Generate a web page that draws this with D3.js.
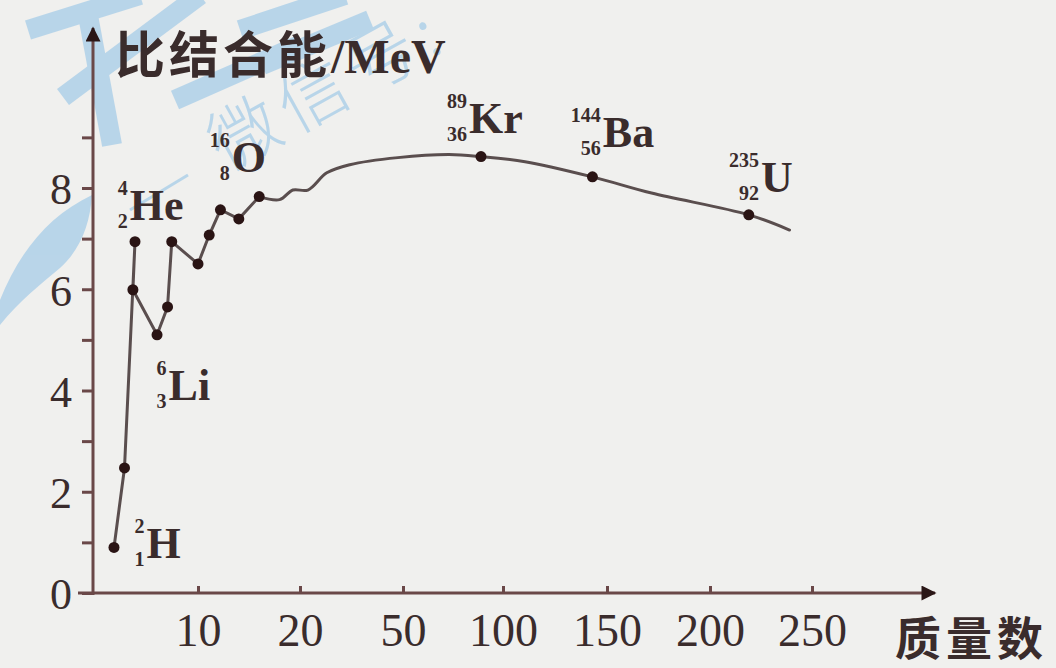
<!DOCTYPE html>
<html>
<head>
<meta charset="utf-8">
<script src="https://cdn.jsdelivr.net/npm/d3@7"></script>
<style>
  html, body { margin: 0; padding: 0; background: #f0f0ee; }
  svg { display: block; }
</style>
</head>
<body>
<svg></svg>
<script>

// mass number A and binding energy per nucleon (MeV)
const massNumbers = [2, 3, 4, 3.8, 6.1, 7.1, 7.5, 10, 11.1, 12.2, 14, 16,
                     18, 19.3, 22.3, 27.8, 34.5, 48.5, 73, 89, 110.6, 143, 171.6, 219, 239];
const energies    = [0.9, 2.47, 6.94, 5.99, 5.1, 5.65, 6.94, 6.5, 7.07, 7.57, 7.39, 7.83,
                     7.77, 7.96, 7.96, 8.3, 8.46, 8.6, 8.66, 8.62, 8.52, 8.22, 7.9, 7.47, 7.17];
const hasDot      = [1, 1, 1, 1, 1, 1, 1, 1, 1, 1, 1, 1,
                     0, 0, 0, 0, 0, 0, 0, 1, 0, 1, 0, 1, 0];

// nuclide labels: symbol, mass number, atomic number, anchor in data units
const labelSymbols = ['H', 'He', 'Li', 'O', 'Kr', 'Ba', 'U'];
const labelMass    = ['2', '4', '6', '16', '89', '144', '235'];
const labelZ       = ['1', '2', '3', '8', '36', '56', '92'];
const labelA       = [5.1, 3.5, 7.2, 13.3, 83, 148, 225];
const labelE       = [0.69, 7.37, 3.81, 8.32, 9.09, 8.81, 7.92];

const xTicks = [10, 20, 50, 100, 150, 200, 250];
const yTicks = [0, 1, 2, 3, 4, 5, 6, 7, 8, 9];

const yTitle = '比结合能';
const yUnit = '/MeV';
const xTitle = '质量数';
const stamp = '微信号:';

const W = 1056, H = 668;
const ink = '#3a2c2c', axisColor = '#6a4848';

const svg = d3.select('svg').attr('width', W).attr('height', H);

svg.append('rect').attr('width', W).attr('height', H).attr('fill', '#f0f0ee');

// the axis is stretched unevenly: 0-20 wide, then 20,50,100.. equally spaced
const x = d3.scaleLinear()
  .domain([0, 10, 20, 50, 100, 150, 200, 250])
  .range([93, 198, 300, 403, 503, 607, 710, 812]);

const y = d3.scaleLinear()
  .domain([0, 8])
  .range([593, 188]);

//---------------- watermark (scan stamp) -----------------------
const wm = svg.append('g').attr('opacity', 0.55);
const bands = [
  [[28, 30], [140, -5]],
  [[63, 97], [200, -5]],
  [[87, 10], [112, 145]],
  [[175, 100], [300, 45]],
  [[240, 30], [345, -5]],
  [[262, 65], [370, 20]]
];
wm.selectAll('line.band')
  .data(bands)
  .join('line')
  .attr('class', 'band')
  .attr('x1', d => d[0][0]).attr('y1', d => d[0][1])
  .attr('x2', d => d[1][0]).attr('y2', d => d[1][1])
  .attr('stroke', '#8cc0e6').attr('stroke-width', 20);
wm.append('line')
  .attr('x1', 130).attr('y1', 210).attr('x2', 188).attr('y2', 175)
  .attr('stroke', '#8cc0e6').attr('stroke-width', 3);
wm.append('path')
  .attr('d', 'M0,300 C20,250 50,215 92,195 C90,225 80,250 60,268 C40,285 20,300 0,325 Z')
  .attr('fill', '#8cc0e6');
wm.append('text')
  .attr('transform', 'translate(226,172) rotate(-29)')
  .attr('fill', '#8cc0e6')
  .style('font-family', '"Noto Sans CJK SC"')
  .style('font-weight', 300)
  .style('font-size', '70px')
  .attr('letter-spacing', 8)
  .text(stamp);

//---------------- axes -----------------------
const defs = svg.append('defs');
defs.append('marker')
  .attr('id', 'arrow')
  .attr('viewBox', '0 0 10 10')
  .attr('refX', 9).attr('refY', 5)
  .attr('markerWidth', 7).attr('markerHeight', 5)
  .attr('markerUnits', 'strokeWidth')
  .attr('orient', 'auto')
  .append('path')
  .attr('d', 'M0,0 L10,5 L0,10 z')
  .attr('fill', '#2a1616');

svg.append('line')
  .attr('x1', 78).attr('y1', y(0)).attr('x2', 935).attr('y2', y(0))
  .attr('stroke', axisColor).attr('stroke-width', 3)
  .attr('marker-end', 'url(#arrow)');

svg.append('line')
  .attr('x1', x(0)).attr('y1', y(0) + 2).attr('x2', x(0)).attr('y2', 28)
  .attr('stroke', axisColor).attr('stroke-width', 3)
  .attr('marker-end', 'url(#arrow)');

const xAxis = d3.axisBottom(x)
  .tickValues(xTicks)
  .tickSizeInner(-7)
  .tickSizeOuter(0)
  .tickPadding(30);

const gx = svg.append('g')
  .attr('transform', `translate(0,${y(0)})`)
  .call(xAxis);
gx.select('.domain').remove();
gx.selectAll('.tick line').attr('stroke', axisColor).attr('stroke-width', 3);
gx.selectAll('.tick text')
  .attr('fill', ink)
  .style('font-family', '"Liberation Serif", serif')
  .style('font-size', '46px')
  .attr('dy', '0.5em');

const yAxis = d3.axisLeft(y)
  .tickValues(yTicks)
  .tickSizeInner(11)
  .tickSizeOuter(0)
  .tickPadding(10)
  .tickFormat(d => d % 2 === 0 ? d : '');

const gy = svg.append('g')
  .attr('transform', `translate(${x(0)},0)`)
  .call(yAxis);
gy.select('.domain').remove();
gy.selectAll('.tick line').attr('stroke', axisColor).attr('stroke-width', 3);
gy.selectAll('.tick text')
  .attr('fill', ink)
  .style('font-family', '"Liberation Serif", serif')
  .style('font-size', '44px')
  .attr('dy', '0.36em');

//---------------- titles -----------------------
const yt = svg.append('text')
  .attr('x', 115).attr('y', 73)
  .attr('fill', ink);
yt.append('tspan')
  .style('font-family', '"Noto Sans CJK SC"')
  .style('font-weight', 700)
  .style('font-size', '50px')
  .attr('letter-spacing', 4)
  .text(yTitle);
yt.append('tspan')
  .style('font-family', '"Liberation Serif", serif')
  .style('font-weight', 700)
  .style('font-size', '48px')
  .text(yUnit);

svg.append('text')
  .attr('x', 895).attr('y', 655)
  .attr('fill', ink)
  .style('font-family', '"Noto Sans CJK SC"')
  .style('font-weight', 700)
  .style('font-size', '46px')
  .attr('letter-spacing', 5)
  .text(xTitle);

//---------------- curve -----------------------
const pts = massNumbers.map((a, i) => ({a: a, e: energies[i], dot: hasDot[i]}));
const smoothFrom = 11;

const rough = d3.line()
  .x(d => x(d.a))
  .y(d => y(d.e));

const smooth = d3.line()
  .x(d => x(d.a))
  .y(d => y(d.e))
  .curve(d3.curveCatmullRom.alpha(0.5));

svg.append('path')
  .datum(pts.slice(0, smoothFrom + 1))
  .attr('fill', 'none')
  .attr('stroke', '#5a4e4e')
  .attr('stroke-width', 3)
  .attr('stroke-linejoin', 'round')
  .attr('d', rough);

svg.append('path')
  .datum(pts.slice(smoothFrom))
  .attr('fill', 'none')
  .attr('stroke', '#5a4e4e')
  .attr('stroke-width', 3)
  .attr('stroke-linejoin', 'round')
  .attr('stroke-linecap', 'round')
  .attr('d', smooth);

svg.selectAll('circle.pt')
  .data(pts.filter(d => d.dot))
  .join('circle')
  .attr('class', 'pt')
  .attr('cx', d => x(d.a))
  .attr('cy', d => y(d.e))
  .attr('r', 5.5)
  .attr('fill', '#2a1414');

//---------------- nuclide labels -----------------------
const labels = labelSymbols.map((s, i) => ({
  s: s, m: labelMass[i], z: labelZ[i], a: labelA[i], e: labelE[i]
}));

const lg = svg.selectAll('g.nuc')
  .data(labels)
  .join('g')
  .attr('class', 'nuc')
  .attr('transform', d => `translate(${x(d.a)},${y(d.e)})`)
  .attr('fill', ink)
  .style('font-family', '"Liberation Serif", serif')
  .style('font-weight', 700);

lg.append('text')
  .attr('x', 0).attr('y', 0)
  .style('font-size', '44px')
  .text(d => d.s);

lg.append('text')
  .attr('x', -2).attr('y', -25)
  .attr('text-anchor', 'end')
  .style('font-size', '20px')
  .text(d => d.m);

lg.append('text')
  .attr('x', -2).attr('y', 8)
  .attr('text-anchor', 'end')
  .style('font-size', '20px')
  .text(d => d.z);

</script>
</body>
</html>
